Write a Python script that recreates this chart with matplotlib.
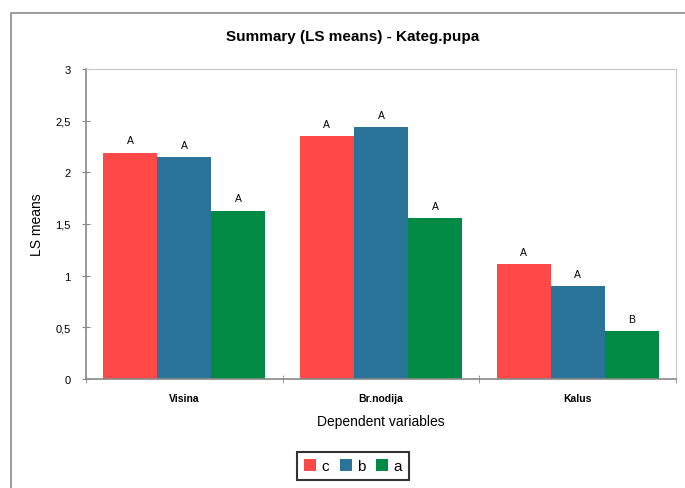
import matplotlib

matplotlib.use("Agg")
import matplotlib.pyplot as plt
from matplotlib.patches import Rectangle
import numpy as np

plt.rcParams["font.family"] = ["Liberation Sans", "DejaVu Sans"]

# LS means
categories = ["Visina", "Br.nodija", "Kalus"]
series = ["c", "b", "a"]
values_c = [2.19, 2.35, 1.11]
values_b = [2.15, 2.44, 0.90]
values_a = [1.63, 1.56, 0.46]
letters_c = ["A", "A", "A"]
letters_b = ["A", "A", "A"]
letters_a = ["A", "A", "B"]
yticks = [0, 0.5, 1, 1.5, 2, 2.5, 3]
ytick_labels = ["0", "0,5", "1", "1,5", "2", "2,5", "3"]

colors = ["#FF4848", "#2B7499", "#008A44"]
all_vals = [values_c, values_b, values_a]
all_letters = [letters_c, letters_b, letters_a]

fig = plt.figure(figsize=(6.85, 4.89), dpi=100)
ax = fig.add_axes([86 / 685, 109 / 489, 590 / 685, 310 / 489])

# outer chart frame (cropped on right/bottom)
fig.patches.append(Rectangle((11 / 685, -0.1), 1.1, (489 - 14) / 489 + 0.1,
                             transform=fig.transFigure, fill=False,
                             edgecolor="#8c8c8c", lw=1.2, zorder=0))

x = np.arange(len(categories))
w = 0.275
for i, (vals, lets) in enumerate(zip(all_vals, all_letters)):
    pos = x + (i - 1) * w
    ax.bar(pos, vals, width=w, color=colors[i], label=series[i], zorder=2)
    for p, v, l in zip(pos, vals, lets):
        ax.text(p, v + 0.07, l, ha="center", va="bottom", fontsize=7.5)

ax.set_xlim(-0.5, 2.5)
ax.set_ylim(0, 3)
ax.set_yticks(yticks)
ax.set_yticklabels(ytick_labels, fontsize=8)
ax.set_xticks(x)
ax.set_xticklabels(categories, fontsize=7.5, fontweight="bold")
ax.set_xticks([-0.5, 0.5, 1.5, 2.5], minor=True)
ax.tick_params(axis="x", which="major", length=0, pad=10)
ax.tick_params(axis="x", which="minor", length=6, color="#888888", direction="inout")
ax.tick_params(axis="y", length=6, color="#888888", direction="inout", pad=8)

for s in ["top", "right"]:
    ax.spines[s].set_color("#c8c8c8")
for s in ["left", "bottom"]:
    ax.spines[s].set_color("#888888")
    ax.spines[s].set_linewidth(1.2)

ax.set_ylabel("LS means", fontsize=10, labelpad=8)
ax.set_xlabel("Dependent variables", fontsize=10, labelpad=8)
fig.text(353 / 685, 1 - 37 / 489, "Summary (LS means) - Kateg.pupa",
         ha="center", va="center", fontsize=11, fontweight="bold")

leg = fig.legend(loc="center", bbox_to_anchor=(353 / 685, 1 - 467 / 489),
                 ncol=3, fontsize=11, frameon=True, fancybox=False,
                 handlelength=0.8, handleheight=0.9, handletextpad=0.35,
                 columnspacing=0.7, borderpad=0.45)
leg.get_frame().set_edgecolor("black")
leg.get_frame().set_linewidth(1.5)

fig.savefig("out.png", dpi=100)
print("wrote out.png")
